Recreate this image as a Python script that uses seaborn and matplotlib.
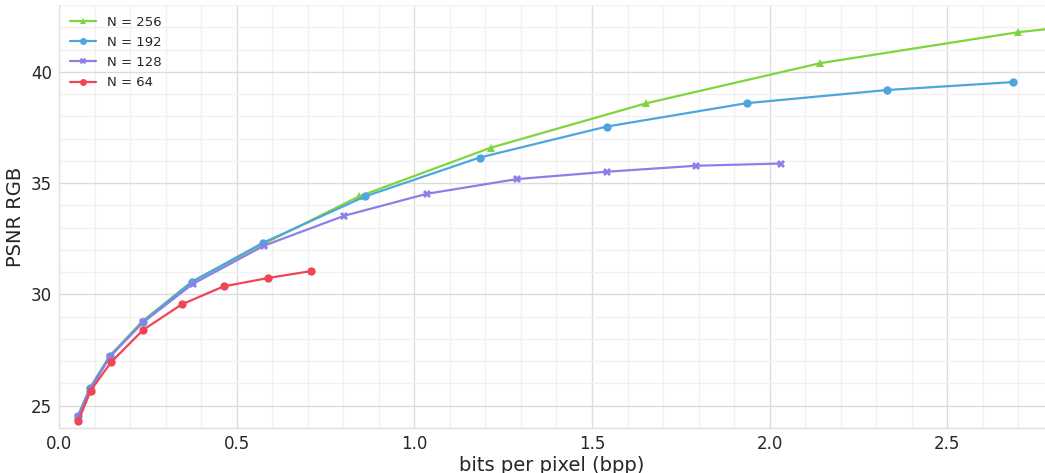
import numpy as np
import pandas as pd
import matplotlib
matplotlib.use("Agg")
import matplotlib.pyplot as plt
import seaborn as sns
from matplotlib.ticker import MultipleLocator

# ---- data ----
bpp_256 = [0.053, 0.087, 0.143, 0.236, 0.374, 0.577, 0.844, 1.215, 1.651, 2.143, 2.700, 3.000]
psnr_256 = [24.55, 25.81, 27.25, 28.82, 30.57, 32.28, 34.40, 36.59, 38.58, 40.39, 41.78, 42.30]

bpp_192 = [0.054, 0.087, 0.143, 0.236, 0.374, 0.574, 0.861, 1.184, 1.541, 1.935, 2.329, 2.686]
psnr_192 = [24.55, 25.78, 27.22, 28.77, 30.57, 32.32, 34.40, 36.15, 37.54, 38.59, 39.18, 39.54]

bpp_128 = [0.053, 0.087, 0.143, 0.236, 0.377, 0.577, 0.802, 1.035, 1.288, 1.541, 1.792, 2.031]
psnr_128 = [24.50, 25.70, 27.20, 28.74, 30.48, 32.19, 33.53, 34.52, 35.18, 35.51, 35.78, 35.88]

bpp_64 = [0.054, 0.089, 0.146, 0.237, 0.345, 0.463, 0.589, 0.710]
psnr_64 = [24.30, 25.68, 26.95, 28.41, 29.55, 30.36, 30.74, 31.05]

series_labels = ["N = 256", "N = 192", "N = 128", "N = 64"]
colors = ["#7ed63c", "#4ea6dc", "#8a80e8", "#f04556"]
markers = ["^", "o", "X", "o"]

frames = []
for lab, xs, ys in zip(series_labels,
                       [bpp_256, bpp_192, bpp_128, bpp_64],
                       [psnr_256, psnr_192, psnr_128, psnr_64]):
    frames.append(pd.DataFrame({"bpp": xs, "psnr": ys, "N": lab}))
df = pd.concat(frames, ignore_index=True)

sns.set_theme(style="whitegrid")
plt.rcParams["font.family"] = ["DejaVu Sans"]

fig = plt.figure(figsize=(10.45, 4.73), dpi=100)
ax = fig.add_axes([0.0565, 0.0951, 0.9435, 0.8943])

sns.lineplot(data=df, x="bpp", y="psnr", hue="N", style="N",
             hue_order=series_labels, style_order=series_labels,
             palette=dict(zip(series_labels, colors)),
             markers=dict(zip(series_labels, markers)),
             dashes=False, sort=False, estimator=None,
             linewidth=1.6, markersize=6, markeredgewidth=0,
             ax=ax)

ax.set_xlim(0, 2.775)
ax.set_ylim(24, 43)
ax.xaxis.set_major_locator(MultipleLocator(0.5))
ax.xaxis.set_minor_locator(MultipleLocator(0.1))
ax.yaxis.set_major_locator(MultipleLocator(5))
ax.yaxis.set_minor_locator(MultipleLocator(1))
ax.grid(which="major", color="#dcdcdc", linewidth=1.0)
ax.grid(which="minor", color="#f1f1f1", linewidth=1.0)
ax.set_axisbelow(True)
ax.set_facecolor("white")
for s in ["top", "right"]:
    ax.spines[s].set_visible(False)
for s in ["left", "bottom"]:
    ax.spines[s].set_color("#e2e2e2")
    ax.spines[s].set_linewidth(1.0)

ax.tick_params(axis="both", which="both", length=0, labelsize=12, colors="#262626", pad=5)
ax.set_xlabel("bits per pixel (bpp)", fontsize=14, color="#262626", labelpad=2)
ax.set_ylabel("PSNR RGB", fontsize=14, color="#262626", labelpad=4)

leg = ax.legend(loc="upper left", frameon=False, fontsize=9.5, title=None,
                handlelength=2.0, borderaxespad=0.4, labelspacing=0.55)
for h in leg.legend_handles:
    h.set_markersize(5)

fig.savefig("out.png", dpi=100)
